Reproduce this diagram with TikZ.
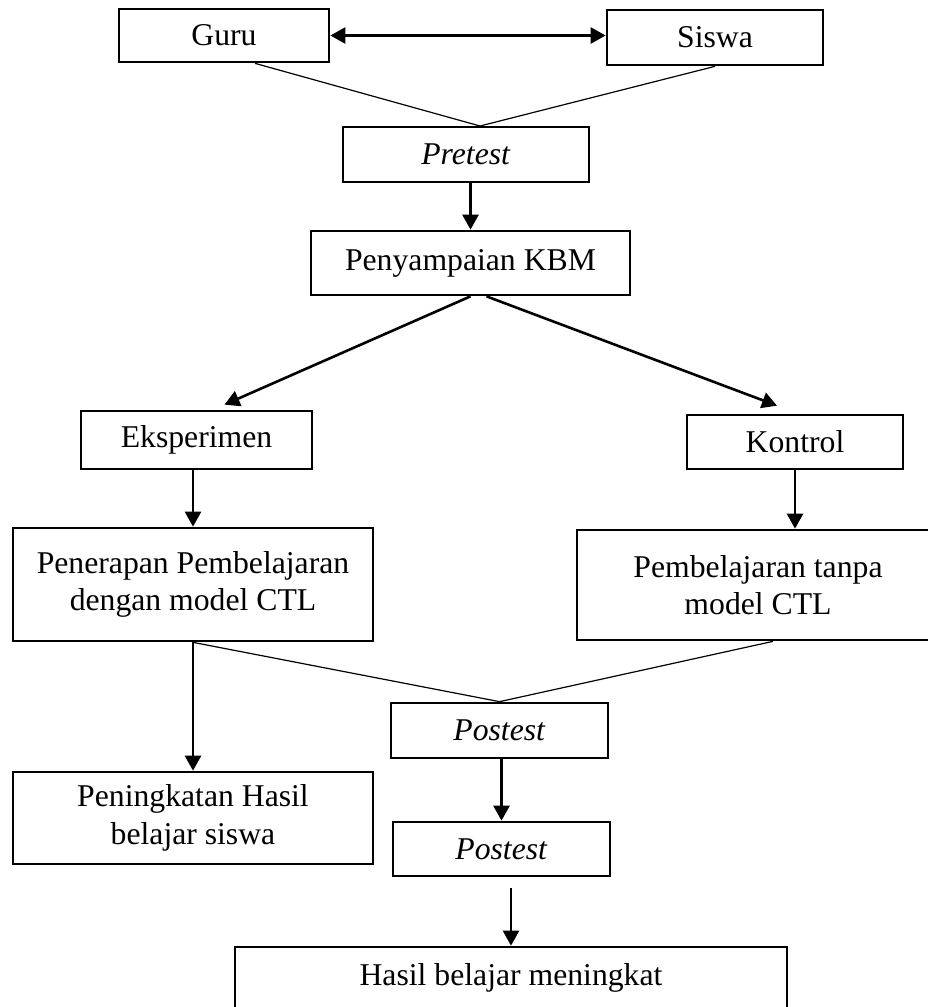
\documentclass[tikz,border=0pt]{standalone}
\usepackage{fontspec}
\setmainfont{Liberation Serif}
\usetikzlibrary{arrows.meta}

\begin{document}
\begin{tikzpicture}[x=0.5pt,y=-0.5pt,
	box/.style={draw=black, line width=1.35pt, inner sep=0pt, align=center,
		font=\fontsize{15.85pt}{18.8pt}\selectfont},
	arr/.style={line width=1.3pt, -{Triangle[length=7.5pt,width=8pt]}},
	thin/.style={line width=0.6pt}]
	\useasboundingbox (0,0) rectangle (927,1007);
	\node [box, minimum width=105pt, minimum height=26.5pt] (guru) at (224,35.5) {Guru};
	\node [box, minimum width=108pt, minimum height=27.5pt] (siswa) at (715,37.5) {Siswa};
	\node [box, minimum width=123pt, minimum height=27.5pt] (pretest) at (466,154.5) {\textit{Pretest}};
	\node [box, minimum width=159.5pt, minimum height=32pt] (kbm) at (470.5,263) {Penyampaian KBM};
	\node [box, minimum width=115.5pt, minimum height=29pt] (eksp) at (196.5,440) {Eksperimen};
	\node [box, minimum width=108pt, minimum height=27pt] (kontrol) at (795,442) {Kontrol};
	\node [box, minimum width=180pt, minimum height=56.5pt] (penerapan) at (193,584.5) {Penerapan Pembelajaran\\dengan model CTL};
	\node [box, minimum width=181pt, minimum height=55pt] (tanpa) at (758,585) {Pembelajaran tanpa\\model CTL};
	\node [box, minimum width=108.5pt, minimum height=27.5pt] (post1) at (499.5,730.5) {\textit{Postest}};
	\node [box, minimum width=180pt, minimum height=46pt] (naik) at (193,818) {Peningkatan Hasil\\belajar siswa};
	\node [box, minimum width=108.5pt, minimum height=27pt] (post2) at (501.5,849) {\textit{Postest}};
	\node [box, minimum width=276pt, minimum height=31pt] (hasil) at (511,978) {Hasil belajar meningkat};
	\coordinate (apex) at (480,126);
	\coordinate (gap) at ([yshift=-5.5pt]post2.south);

	\draw [line width=1.3pt, {Triangle[length=7.5pt,width=8pt]}-{Triangle[length=7.5pt,width=8pt]}] (guru.east) -- (guru.east -| siswa.west);
	\draw [thin] ([xshift=15.5pt]guru.south) -- (apex) -- (siswa.south);
	\draw [arr] (kbm.north |- pretest.south) -- (kbm.north);
	\draw [arr] (kbm.south) -- ([xshift=14pt,yshift=2.5pt]eksp.north);
	\draw [arr] ([xshift=8pt]kbm.south) -- ([xshift=-9pt,yshift=4pt]kontrol.north);
	\draw [arr] (penerapan.north |- eksp.south) -- (penerapan.north);
	\draw [arr] (kontrol.south) -- (kontrol.south |- tanpa.north);
	\draw [arr] (penerapan.south) -- (naik.north);
	\draw [thin] (penerapan.south) -- (post1.north) -- ([xshift=7.5pt]tanpa.south);
	\draw [arr] (post2.north |- post1.south) -- (post2.north);
	\draw [arr] (hasil.north |- gap) -- (hasil.north);
\end{tikzpicture}
\end{document}
